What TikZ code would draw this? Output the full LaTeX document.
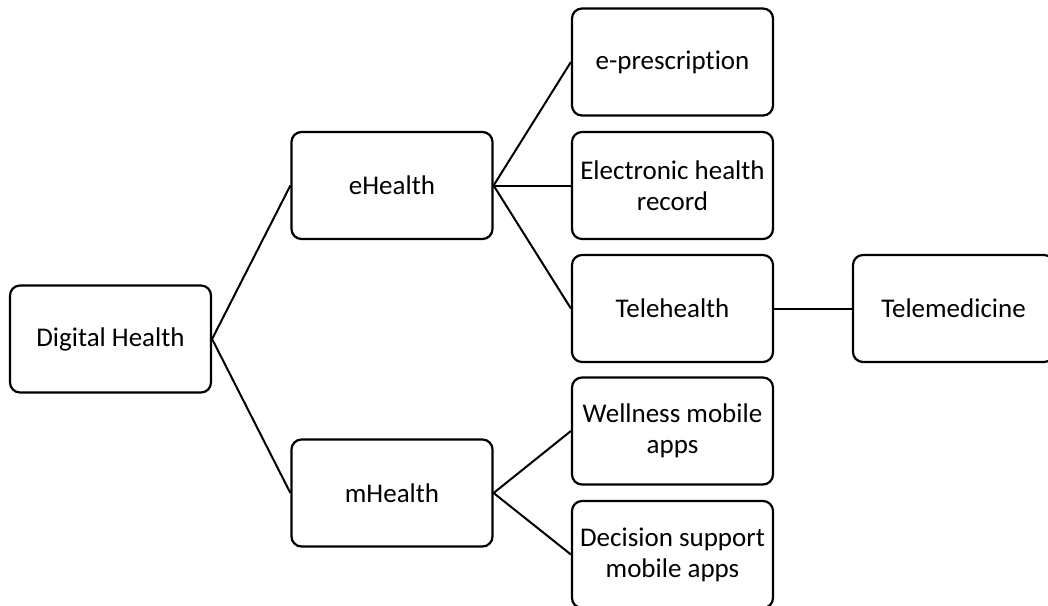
\documentclass[tikz,border=0pt]{standalone}
\usepackage{fontspec}
\setmainfont{Carlito}[Ligatures={NoCommon,NoContextual}]
\begin{document}
\begin{tikzpicture}[x=1pt,y=-1pt,
  box/.style={draw=black, line width=2.2pt, rounded corners=10pt, fill=white,
    minimum width=201pt, minimum height=107pt, align=center, inner sep=0pt,
    font=\fontsize{27}{31}\selectfont, text=black},
  link/.style={draw=black, line width=2pt}]
\useasboundingbox (0,0) rectangle (1048,605);
\clip (0,0) rectangle (1048,605);
\fill[white] (0,0) rectangle (1048,605);
\node[box] (dh) at (110.5,339) {Digital Health};
\node[box] (eh) at (392,185.5) {eHealth};
\node[box] (mh) at (392,493) {mHealth};
\node[box] (ep) at (672.5,62) {e-prescription};
\node[box] (ehr) at (672.5,185.5) {Electronic health\\record};
\node[box] (th) at (672.5,308.5) {Telehealth};
\node[box] (tm) at (953.5,308.5) {Telemedicine};
\node[box] (wm) at (672.5,431) {Wellness mobile\\apps};
\node[box] (ds) at (672.5,554.5) {Decision support\\mobile apps};
\draw[link] (dh.east) -- (eh.west);
\draw[link] (dh.east) -- (mh.west);
\draw[link] (eh.east) -- (ep.west);
\draw[link] (eh.east) -- (ehr.west);
\draw[link] (eh.east) -- (th.west);
\draw[link] (th.east) -- (tm.west);
\draw[link] (mh.east) -- (wm.west);
\draw[link] (mh.east) -- (ds.west);
\end{tikzpicture}
\end{document}
